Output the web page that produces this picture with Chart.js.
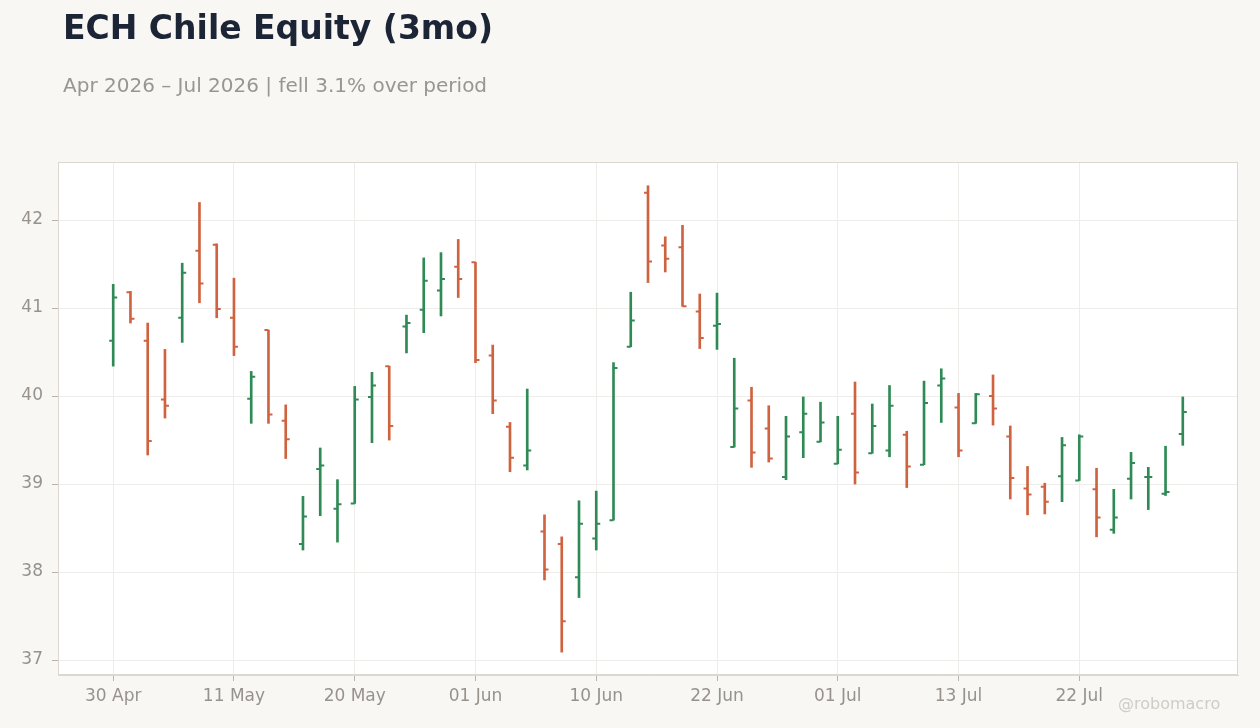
<!DOCTYPE html>
<html>
<head>
<meta charset="utf-8">
<script src="https://cdn.jsdelivr.net/npm/chart.js@4.4.1/dist/chart.umd.min.js"></script>
<style>
  html, body { margin:0; padding:0; background:#f8f7f4; width:1260px; height:728px; overflow:hidden; font-family:"DejaVu Sans", sans-serif; }
  #wrap { position:relative; width:1260px; height:728px; }
  canvas { position:absolute; left:0; top:0; }
  .title { position:absolute; left:63px; top:11px; font-size:33px; line-height:1; font-weight:bold; color:#1c2535; white-space:nowrap; }
  .sub { position:absolute; left:63px; top:75px; font-size:20px; line-height:1; color:#9a9590; white-space:nowrap; }
  .wm { position:absolute; left:1118px; top:696px; font-size:16px; line-height:1; color:#d0ccc6; white-space:nowrap; }
</style>
</head>
<body>
<div id="wrap">
  <canvas id="c" width="1260" height="728"></canvas>
  <div class="title">ECH Chile Equity (3mo)</div>
  <div class="sub">Apr 2026 – Jul 2026 | fell 3.1% over period</div>
  <div class="wm">@robomacro</div>
</div>
<script>
const dates = ["30 Apr","01 May","04 May","05 May","06 May","07 May","08 May",
  "11 May","12 May","13 May","14 May","15 May","18 May","19 May",
  "20 May","21 May","22 May","26 May","27 May","28 May","29 May",
  "01 Jun","02 Jun","03 Jun","04 Jun","05 Jun","08 Jun","09 Jun",
  "10 Jun","11 Jun","12 Jun","15 Jun","16 Jun","17 Jun","18 Jun",
  "22 Jun","23 Jun","24 Jun","25 Jun","26 Jun","29 Jun","30 Jun",
  "01 Jul","02 Jul","06 Jul","07 Jul","08 Jul","09 Jul","10 Jul",
  "13 Jul","14 Jul","15 Jul","16 Jul","17 Jul","20 Jul","21 Jul",
  "22 Jul","23 Jul","24 Jul","27 Jul","28 Jul","29 Jul","30 Jul"];

const opens = [40.63,41.18,40.63,39.96,40.89,41.65,41.72,
  40.89,39.97,40.75,39.72,38.32,39.17,38.72,
  38.78,39.99,40.34,40.79,40.98,41.20,41.47,
  41.52,40.46,39.65,39.21,38.46,38.32,37.94,
  38.38,38.59,40.56,42.31,41.71,41.69,40.96,
  40.80,39.42,39.95,39.63,39.08,39.59,39.48,
  39.23,39.80,39.35,39.38,39.56,39.22,40.12,
  39.87,39.69,40.00,39.54,38.95,38.97,39.09,
  39.04,38.94,38.48,39.06,39.08,38.89,39.57];

const highs = [41.27,41.19,40.83,40.53,41.51,42.20,41.73,
  41.34,40.28,40.75,39.90,38.86,39.41,39.05,
  40.11,40.27,40.34,40.92,41.57,41.63,41.78,
  41.52,40.58,39.70,40.08,38.65,38.40,38.81,
  38.92,40.38,41.18,42.39,41.81,41.94,41.16,
  41.17,40.43,40.10,39.89,39.77,39.99,39.93,
  39.77,40.16,39.91,40.12,39.60,40.17,40.31,
  40.03,40.03,40.24,39.66,39.20,39.01,39.53,
  39.56,39.18,38.94,39.36,39.19,39.43,39.99];

const lows = [40.34,40.83,39.33,39.75,40.61,41.06,40.89,
  40.46,39.69,39.69,39.29,38.25,38.64,38.34,
  38.78,39.47,39.50,40.49,40.72,40.91,41.12,
  40.38,39.80,39.14,39.16,37.91,37.09,37.71,
  38.25,38.59,40.56,41.29,41.41,41.02,40.54,
  40.53,39.42,39.19,39.25,39.05,39.30,39.48,
  39.23,39.00,39.35,39.31,38.96,39.22,39.70,
  39.31,39.69,39.67,38.83,38.65,38.66,38.80,
  39.04,38.40,38.44,38.83,38.71,38.87,39.44];

const closes = [41.12,40.88,39.49,39.89,41.40,41.28,40.99,
  40.56,40.22,39.79,39.51,38.63,39.21,38.77,
  39.96,40.12,39.66,40.83,41.31,41.33,41.33,
  40.41,39.95,39.30,39.38,38.03,37.44,38.55,
  38.55,40.32,40.86,41.53,41.56,41.02,40.66,
  40.82,39.86,39.36,39.29,39.54,39.80,39.70,
  39.39,39.13,39.66,39.89,39.20,39.92,40.20,
  39.38,40.02,39.86,39.07,38.88,38.80,39.44,
  39.54,38.62,38.62,39.24,39.08,38.91,39.82];

const xTickIdx = [0,7,14,21,28,35,42,49,56];
const yTicks = [37,38,39,40,41,42];

const UP = '#2f8a55';
const DOWN = '#cf6340';
const colors = closes.map((c,i) => c >= opens[i] ? UP : DOWN);

const rangeData = dates.map((d,i) => ({x:i, y:[lows[i], highs[i]]}));

const areaPlugin = {
  id:'areaPlugin',
  beforeDraw(chart){
    const {ctx, chartArea:a} = chart;
    ctx.save();
    ctx.fillStyle = '#ffffff';
    ctx.fillRect(a.left, a.top, a.right-a.left, a.bottom-a.top);
    ctx.restore();
  },
  afterDatasetsDraw(chart){
    const {ctx, scales:{x, y}} = chart;
    ctx.save();
    ctx.lineWidth = 2;
    for (let i=0;i<dates.length;i++){
      const px = x.getPixelForValue(i);
      ctx.strokeStyle = colors[i];
      const yo = y.getPixelForValue(opens[i]);
      const yc = y.getPixelForValue(closes[i]);
      ctx.beginPath();
      ctx.moveTo(px-4, yo); ctx.lineTo(px, yo);
      ctx.moveTo(px, yc); ctx.lineTo(px+4, yc);
      ctx.stroke();
    }
    ctx.restore();
  },
  afterDraw(chart){
    const {ctx, chartArea:a} = chart;
    ctx.save();
    ctx.strokeStyle = '#dcd7d0';
    ctx.lineWidth = 1;
    ctx.strokeRect(a.left+0.5, a.top+0.5, a.right-a.left-1, a.bottom-a.top-1);
    ctx.restore();
  }
};

new Chart(document.getElementById('c'), {
  type:'bar',
  data:{
    datasets:[{
      data: rangeData,
      backgroundColor: colors,
      borderWidth: 0,
      barThickness: 2,
      grouped: false
    }]
  },
  options:{
    responsive:false,
    animation:false,
    devicePixelRatio:1,
    layout:{ padding:{ left:0, right:22, top:162, bottom:0 } },
    plugins:{ legend:{display:false}, tooltip:{enabled:false}, title:{display:false} },
    scales:{
      x:{
        type:'linear',
        offset:false,
        min:-3.2, max:65.2,
        afterBuildTicks(s){ s.ticks = xTickIdx.map(v=>({value:v})); },
        afterFit(s){ s.height = 53; },
        ticks:{
          autoSkip:false, maxRotation:0,
          color:'#98928c',
          font:{ family:'"DejaVu Sans"', size:17 },
          padding:5,
          callback:(v)=> dates[v]
        },
        grid:{ color:'#efedea', lineWidth:1, offset:false, tickLength:6, tickColor:'#b8b3ac' },
        border:{ display:true, color:'#dcd7d0' }
      },
      y:{
        type:'linear',
        min:36.83, max:42.66,
        afterBuildTicks(s){ s.ticks = yTicks.map(v=>({value:v})); },
        afterFit(s){ s.width = 58; },
        ticks:{
          color:'#98928c',
          font:{ family:'"DejaVu Sans"', size:17 },
          padding:9,
          callback:(v)=> String(v)
        },
        grid:{ color:'#efedea', lineWidth:1, tickLength:6, tickColor:'#b8b3ac' },
        border:{ display:true, color:'#dcd7d0' }
      }
    }
  },
  plugins:[areaPlugin]
});
</script>
</body>
</html>
